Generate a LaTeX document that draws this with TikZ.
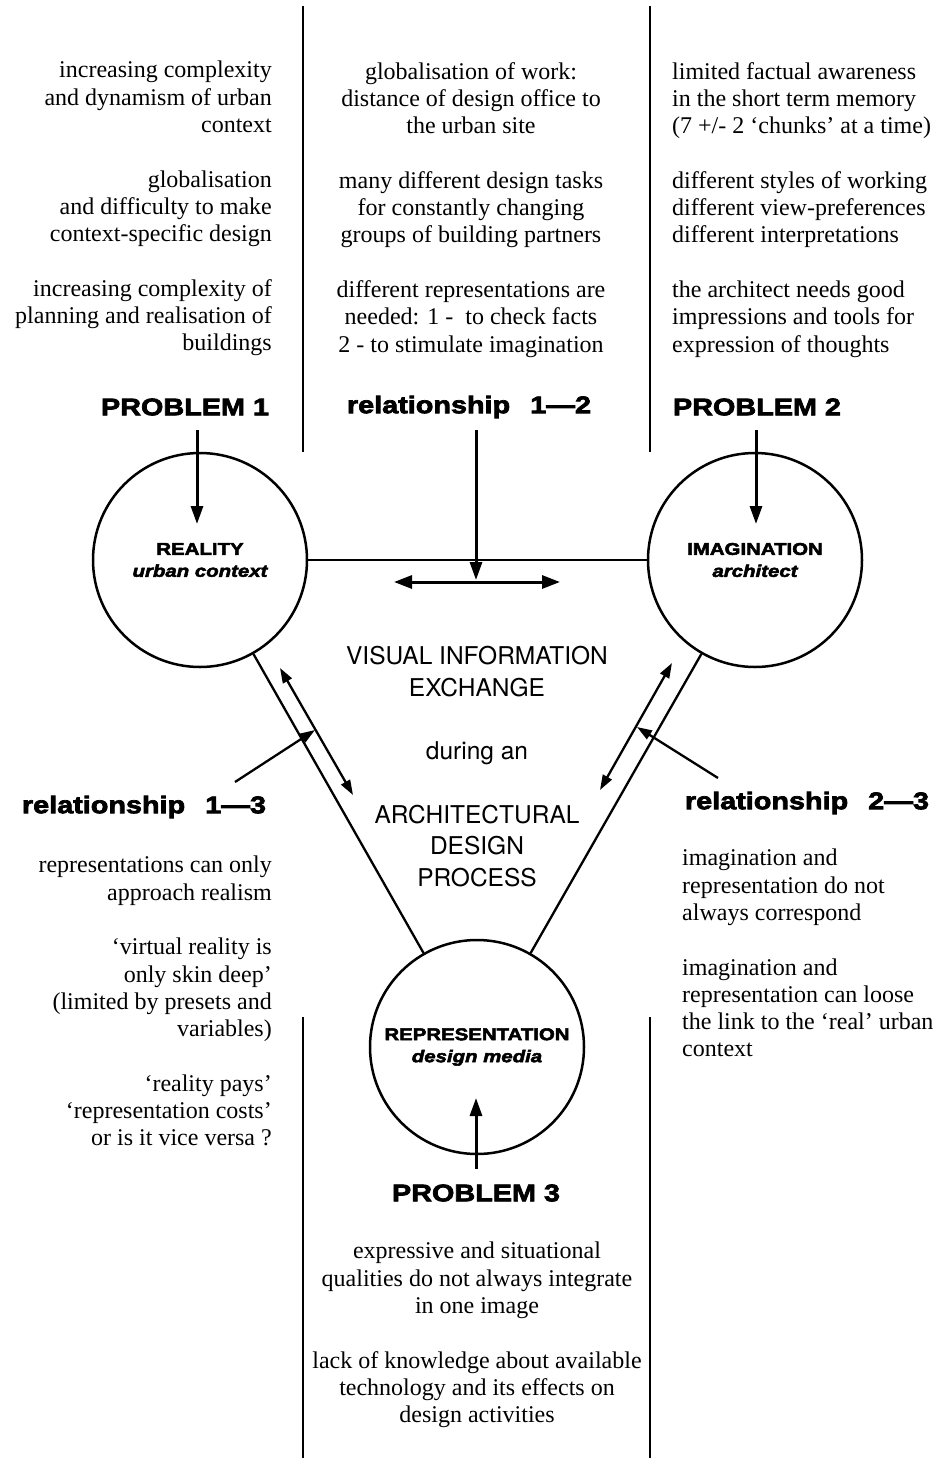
\documentclass[tikz,border=0pt]{standalone}
\usepackage{fontspec}
\setmainfont{Liberation Serif}
\newfontfamily\heavy{Liberation Sans}[FakeBold=3,FakeStretch=1.2]
\newfontfamily\helv{TeX Gyre Heros}
\usetikzlibrary{arrows.meta}

\begin{document}
\begin{tikzpicture}[x=1pt,y=-1pt,
  body/.style={inner sep=0pt, font=\fontsize{24}{27.3}\selectfont},
  heading/.style={inner sep=0pt, font=\heavy\bfseries\fontsize{24}{28}\selectfont},
  centre/.style={inner sep=0pt, align=center, font=\helv\fontsize{24.5}{31.7}\selectfont},
  pole/.style={circle, draw, line width=2.5pt, minimum size=214pt, inner sep=0pt,
    align=center, font=\heavy\bfseries\fontsize{17}{22}\selectfont},
  divider/.style={line width=1.5pt},
  link/.style={line width=2.3pt},
  bigarrow/.style={line width=3pt, -{Triangle[length=18pt,width=12pt]}},
  twoway/.style={line width=3pt, {Triangle[length=18pt,width=13pt]}-{Triangle[length=18pt,width=13pt]}},
  sidearrow/.style={line width=2.3pt, {Triangle[length=15pt,width=10pt]}-{Triangle[length=15pt,width=10pt]}},
  pointer/.style={line width=2.3pt, -{Triangle[length=15pt,width=10pt]}}
]
\useasboundingbox (0,0) rectangle (943,1461);

% column dividers
\coordinate (d1a) at (303,6);    \coordinate (d1b) at (303,452);
\coordinate (d2a) at (650,6);    \coordinate (d2b) at (650,452);
\coordinate (d3a) at (303,1017); \coordinate (d3b) at (303,1458);
\coordinate (d4a) at (650,1017); \coordinate (d4b) at (650,1458);
\draw[divider] (d1a) -- (d1b);
\draw[divider] (d2a) -- (d2b);
\draw[divider] (d3a) -- (d3b);
\draw[divider] (d4a) -- (d4b);

% problem descriptions, top row
\node[body, anchor=north east, align=right] (t1) at (272,61)
  {increasing complexity\\and dynamism of urban\\context\\[27.3pt]globalisation\\and difficulty to make\\context-specific design\\[27.3pt]increasing complexity of\\planning and realisation of\\buildings};
\node[body, anchor=north, align=center] (t2) at (471,62)
  {globalisation of work:\\distance of design office to\\the urban site\\[27.3pt]many different design tasks\\for constantly changing\\groups of building partners\\[27.3pt]different representations are\\needed: 1 -\ \ to check facts\\2 - to stimulate imagination};
\node[body, anchor=north west, align=left] (t3) at (672,62)
  {limited factual awareness\\in the short term memory\\(7 +/- 2 ‘chunks’ at a time)\\[27.3pt]different styles of working\\different view-preferences\\different interpretations\\[27.3pt]the architect needs good\\impressions and tools for\\expression of thoughts};

% headings
\node[heading] (h1) at (185,407) {PROBLEM 1};
\node[heading] (h12) at (469,407) {relationship\hspace{20pt}1—2};
\node[heading] (h2) at (757,407) {PROBLEM 2};
\node[heading] (h13) at (144,807) {relationship\hspace{20pt}1—3};
\node[heading] (h23) at (807,803) {relationship\hspace{20pt}2—3};
\node[heading] (h3) at (476,1193) {PROBLEM 3};

% the three poles
\node[pole] (R) at (200,560) {REALITY\\\itshape urban context};
\node[pole] (I) at (755,560) {IMAGINATION\\\itshape architect};
\node[pole] (P) at (477,1047) {REPRESENTATION\\\itshape design media};

\draw[link] (R) -- (I);
\draw[link] (R) -- (P);
\draw[link] (I) -- (P);

% central statement
\node[centre, anchor=north] (c) at (477,646)
  {VISUAL INFORMATION\\EXCHANGE\\[31.7pt]during an\\[31.7pt]ARCHITECTURAL\\DESIGN\\PROCESS};

% problem arrows
\coordinate (a1s) at (197,430);  \coordinate (a1e) at (197,524);
\coordinate (a2s) at (756,430);  \coordinate (a2e) at (756,524);
\coordinate (a3s) at (476,1169); \coordinate (a3e) at (476,1098);
\draw[bigarrow] (a1s) -- (a1e);
\draw[bigarrow] (a2s) -- (a2e);
\draw[bigarrow] (a3s) -- (a3e);

% relationship 1-2
\coordinate (a12s) at (476,430); \coordinate (a12e) at (476,580);
\coordinate (x1) at (394,582);   \coordinate (x2) at (560,582);
\draw[twoway] (x1) -- (x2);
\draw[bigarrow] (a12s) -- (a12e);

% relationship 1-3
\coordinate (l1) at (280,668); \coordinate (l2) at (353,795);
\coordinate (lt) at (235,782); \coordinate (lh) at (315,730);
\draw[sidearrow] (l1) -- (l2);
\draw[pointer] (lt) -- (lh);

% relationship 2-3
\coordinate (r1) at (672,663); \coordinate (r2) at (600,790);
\coordinate (rt) at (718,778); \coordinate (rh) at (637,727);
\draw[sidearrow] (r1) -- (r2);
\draw[pointer] (rt) -- (rh);

% problem descriptions, bottom row
\node[body, anchor=north east, align=right] (t4) at (272,856)
  {representations can only\\approach realism\\[27.3pt]‘virtual reality is\\only skin deep’\\(limited by presets and\\variables)\\[27.3pt]‘reality pays’\\‘representation costs’\\or is it vice versa ?};
\node[body, anchor=north west, align=left] (t5) at (682,849)
  {imagination and\\representation do not\\always correspond\\[27.3pt]imagination and\\representation can loose\\the link to the ‘real’ urban\\context};
\node[body, anchor=north, align=center] (t6) at (477,1242)
  {expressive and situational\\qualities do not always integrate\\in one image\\[27.3pt]lack of knowledge about available\\technology and its effects on\\design activities};
\end{tikzpicture}
\end{document}
